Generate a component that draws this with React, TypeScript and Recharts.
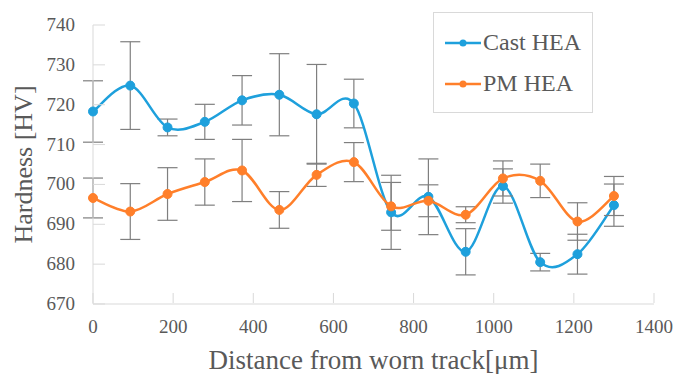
import { LineChart, Line, XAxis, YAxis, ErrorBar } from 'recharts';

// distance from worn track (µm)
const distances = [0, 93, 186, 279, 372, 465, 558, 651, 744, 837, 930, 1023, 1116, 1209, 1300];

const castHardness = [718.3, 724.8, 714.3, 715.7, 721.1, 722.5, 717.6, 720.3, 693.0, 696.9, 683.1, 699.6, 680.5, 682.5, 694.8];
const castError = [7.7, 11, 2.1, 4.4, 6.2, 10.3, 12.5, 6.1, 9.3, 9.5, 5.8, 4.3, 2.2, 5.0, 5.3];

const pmHardness = [696.6, 693.2, 697.6, 700.6, 703.5, 693.6, 702.4, 705.6, 694.5, 695.9, 692.4, 701.5, 700.9, 690.7, 697.1];
const pmError = [5.0, 7.0, 6.6, 5.8, 7.8, 4.6, 2.9, 4.9, 6.0, 4.0, 2.0, 4.4, 4.2, 4.7, 4.9];

const xTicks = [0, 200, 400, 600, 800, 1000, 1200, 1400];
const yTicks = [670, 680, 690, 700, 710, 720, 730, 740];

const BLUE = '#1ea0dc';
const ORANGE = '#ff7f2a';
const TEXT = '#595959';
const AXIS = '#d9d9d9';
const FONT = "'Times New Roman', Times, 'Liberation Serif', Tinos, 'Noto Serif', 'DejaVu Serif', serif";

const data = distances.map((d, i) => ({
    d,
    cast: castHardness[i],
    castErr: castError[i],
    pm: pmHardness[i],
    pmErr: pmError[i],
}));

// Excel-style smoothing: cubic bezier with control points at 1/6 of neighbour difference
function smoothCurve(context: any) {
    let pts: number[][] = [];
    return {
        areaStart() {},
        areaEnd() {},
        lineStart() { pts = []; },
        point(x: number, y: number) { pts.push([+x, +y]); },
        lineEnd() {
            const n = pts.length;
            if (!n) return;
            context.moveTo(pts[0][0], pts[0][1]);
            for (let i = 0; i < n - 1; i++) {
                const p0 = pts[i - 1] || pts[i];
                const p1 = pts[i];
                const p2 = pts[i + 1];
                const p3 = pts[i + 2] || p2;
                context.bezierCurveTo(
                    p1[0] + (p2[0] - p0[0]) / 6, p1[1] + (p2[1] - p0[1]) / 6,
                    p2[0] - (p3[0] - p1[0]) / 6, p2[1] - (p3[1] - p1[1]) / 6,
                    p2[0], p2[1],
                );
            }
        },
    };
}

function YTick({ x, y, payload }: any) {
    const ax = x + 14;
    return (
        <g>
            <line x1={ax - 6} x2={ax + 6} y1={y} y2={y} stroke={AXIS} />
            <text x={x - 10} y={y} dy={6} textAnchor="end" fill={TEXT} fontFamily={FONT} fontSize={19}>
                {payload.value}
            </text>
        </g>
    );
}

function XTick({ x, y, payload }: any) {
    const ay = y - 14;
    return (
        <g>
            <line x1={x} x2={x} y1={ay - 5} y2={ay + 5} stroke={AXIS} />
            <text x={x} y={y + 21} textAnchor="middle" fill={TEXT} fontFamily={FONT} fontSize={19}>
                {payload.value}
            </text>
        </g>
    );
}

function YLabel({ viewBox }: any) {
    const cx = 24;
    const cy = viewBox.y + viewBox.height / 2;
    return (
        <text
            x={cx} y={cy} dy={8} textAnchor="middle" fill={TEXT}
            transform={`rotate(-90 ${cx} ${cy})`}
            fontFamily={FONT} fontSize={26}
        >
            Hardness [HV]
        </text>
    );
}

function XLabel({ viewBox }: any) {
    const cx = viewBox.x + viewBox.width / 2;
    return (
        <text x={cx} y={369} textAnchor="middle" fill={TEXT} fontFamily={FONT} fontSize={27}>
            Distance from worn track[μm]
        </text>
    );
}

function LegendBox() {
    const row = (color: string, label: string) => (
        <div style={{ display: 'flex', alignItems: 'center', height: 41 }}>
            <svg width={36} height={10} style={{ marginRight: 2 }}>
                <line x1={0} x2={36} y1={5} y2={5} stroke={color} strokeWidth={2.5} />
                <circle cx={18} cy={5} r={3.5} fill={color} />
            </svg>
            <span style={{ fontFamily: FONT, fontSize: 24, color: TEXT, lineHeight: '25px' }}>{label}</span>
        </div>
    );
    return (
        <div style={{
            position: 'absolute', left: 433, top: 12,
            width: 160, height: 101, boxSizing: 'border-box', border: `1px solid ${AXIS}`,
            padding: '9px 0 0 11px', background: '#fff',
        }}>
            {row(BLUE, 'Cast HEA')}
            {row(ORANGE, 'PM HEA')}
        </div>
    );
}

export default function App() {
    return (
        <div style={{ position: 'absolute', left: 0, top: 0, width: 678, height: 374, background: '#fff', fontFamily: FONT }}>
            <LineChart width={678} height={374} data={data} margin={{ top: 25, right: 24, left: 0, bottom: 0 }}>
                <XAxis
                    dataKey="d"
                    type="number"
                    domain={[0, 1400]}
                    ticks={xTicks}
                    height={70}
                    stroke={AXIS}
                    tickLine={false}
                    tick={<XTick />}
                    label={<XLabel />}
                />
                <YAxis
                    type="number"
                    domain={[670, 740]}
                    ticks={yTicks}
                    width={93}
                    stroke={AXIS}
                    tickLine={false}
                    tick={<YTick />}
                    label={<YLabel />}
                />
                <Line
                    dataKey="cast"
                    name="Cast HEA"
                    type={smoothCurve as any}
                    stroke={BLUE}
                    strokeWidth={2.5}
                    dot={{ r: 4.5, fill: BLUE, stroke: BLUE, strokeWidth: 1 }}
                    activeDot={false}
                    isAnimationActive={false}
                >
                    <ErrorBar dataKey="castErr" direction="y" width={10} stroke="#7f7f7f" strokeWidth={1.2} isAnimationActive={false} />
                </Line>
                <Line
                    dataKey="pm"
                    name="PM HEA"
                    type={smoothCurve as any}
                    stroke={ORANGE}
                    strokeWidth={2.5}
                    dot={{ r: 4.5, fill: ORANGE, stroke: ORANGE, strokeWidth: 1 }}
                    activeDot={false}
                    isAnimationActive={false}
                >
                    <ErrorBar dataKey="pmErr" direction="y" width={10} stroke="#7f7f7f" strokeWidth={1.2} isAnimationActive={false} />
                </Line>
            </LineChart>
            <LegendBox />
        </div>
    );
}
